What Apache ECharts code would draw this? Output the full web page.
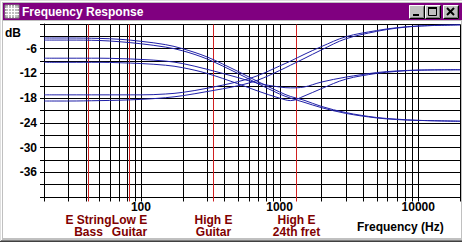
<!DOCTYPE html>
<html>
<head>
<meta charset="utf-8">
<script src="https://cdn.jsdelivr.net/npm/echarts@6/dist/echarts.min.js"></script>
<style>
html,body{margin:0;padding:0;background:#c0c0c0;}
#c{width:462px;height:242px;}
</style>
</head>
<body>
<div id="c"></div>
<script>
// ---- data ----
const freqs = [20, 30, 50, 70, 100, 150, 200, 300, 500, 700, 1000, 1200, 1500, 2000, 3000, 5000, 7000, 10000, 20000];
const curveA = [-3.4, -3.4, -3.5, -3.7, -4.2, -5.0, -6.0, -8.0, -11.5, -14.0, -16.5, -17.6, -18.5, -20.0, -21.5, -22.7, -23.1, -23.4, -23.6];
const curveB = [-3.9, -3.9, -4.0, -4.3, -4.8, -5.6, -6.5, -8.5, -12.0, -14.5, -17.0, -18.0, -19.0, -20.3, -21.7, -22.8, -23.2, -23.4, -23.6];
const curveC = [-8.3, -8.3, -8.3, -8.4, -8.6, -9.0, -9.6, -11.0, -13.0, -14.4, -15.3, -15.5, -15.3, -14.1, -12.9, -11.8, -11.4, -11.2, -11.1];
const curveD = [-9.3, -9.3, -9.3, -9.4, -9.6, -10.0, -10.6, -12.0, -14.5, -16.3, -18.0, -18.6, -17.5, -15.7, -13.4, -12.0, -11.5, -11.2, -11.1];
const curveE = [-17.2, -17.2, -17.2, -17.2, -17.2, -17.0, -16.6, -15.6, -14.0, -12.5, -10.2, -9.0, -7.4, -5.5, -3.1, -1.6, -0.9, -0.5, -0.2];
const curveF = [-18.7, -18.7, -18.6, -18.5, -18.3, -17.9, -17.4, -16.4, -15.0, -13.6, -11.3, -10.0, -8.4, -6.3, -3.6, -1.8, -1.0, -0.5, -0.2];
const curves = [curveA, curveB, curveC, curveD, curveE, curveF];

const gridFreqs = [20, 30, 40, 50, 60, 70, 80, 90, 100, 200, 300, 400, 500, 600, 700, 800, 900,
  1000, 2000, 3000, 4000, 5000, 6000, 7000, 8000, 9000, 10000, 20000];
const markerFreqs = [41.2, 82.4, 329.6, 1318.5];
const markerLine1 = ['E String', 'Low E', 'High E', 'High E'];
const markerLine2 = ['Bass', 'Guitar', 'Guitar', '24th fret'];
const xTickLabels = [100, 1000, 10000];
const yTickLabels = [-6, -12, -18, -24, -30, -36];

const FONT = '"Liberation Sans", Arial, sans-serif';

const chart = echarts.init(document.getElementById('c'), null, {renderer: 'svg'});

function button(x, y, glyph) {
  const w = 16, h = 14;
  const children = [
    {type: 'rect', shape: {x: x, y: y, width: w, height: h}, style: {fill: '#c0c0c0'}},
    {type: 'polyline', shape: {points: [[x + 0.5, y + h - 0.5], [x + 0.5, y + 0.5], [x + w - 0.5, y + 0.5]]}, style: {stroke: '#ffffff', lineWidth: 1, fill: null}},
    {type: 'polyline', shape: {points: [[x + 0.5, y + h - 0.5], [x + w - 0.5, y + h - 0.5], [x + w - 0.5, y + 0.5]]}, style: {stroke: '#000000', lineWidth: 1, fill: null}},
    {type: 'polyline', shape: {points: [[x + 1.5, y + h - 1.5], [x + w - 1.5, y + h - 1.5], [x + w - 1.5, y + 1.5]]}, style: {stroke: '#808080', lineWidth: 1, fill: null}}
  ];
  if (glyph === 'min') {
    children.push({type: 'rect', shape: {x: x + 4, y: y + 9, width: 6, height: 2}, style: {fill: '#000'}});
  } else if (glyph === 'max') {
    children.push({type: 'rect', shape: {x: x + 3.5, y: y + 2.5, width: 8, height: 8}, style: {stroke: '#000', fill: null, lineWidth: 1}});
    children.push({type: 'rect', shape: {x: x + 3, y: y + 2, width: 9, height: 2}, style: {fill: '#000'}});
  } else {
    children.push({type: 'line', shape: {x1: x + 4, y1: y + 3, x2: x + 11, y2: y + 10}, style: {stroke: '#000', lineWidth: 2}});
    children.push({type: 'line', shape: {x1: x + 11, y1: y + 3, x2: x + 4, y2: y + 10}, style: {stroke: '#000', lineWidth: 2}});
  }
  return {type: 'group', z: -5, children: children};
}

const iconChildren = [{type: 'rect', shape: {x: 5, y: 5, width: 14, height: 13}, style: {fill: '#c0c0c0', stroke: '#808080', lineWidth: 1}}];
[8, 11, 14].forEach(function (v) {
  iconChildren.push({type: 'line', shape: {x1: v + 0.5, y1: 5, x2: v + 0.5, y2: 18}, style: {stroke: '#ffffff', lineWidth: 1}});
});
[8, 11, 14].forEach(function (v) {
  iconChildren.push({type: 'line', shape: {x1: 5, y1: v + 0.5, x2: 19, y2: v + 0.5}, style: {stroke: '#ffffff', lineWidth: 1}});
});

const lineSeries = curves.map(function (c) {
  return {
    type: 'line',
    data: freqs.map(function (f, i) { return [f, c[i]]; }),
    smooth: 0.35,
    showSymbol: false,
    symbol: 'none',
    lineStyle: {color: '#2020a8', width: 1},
    z: 5,
    silent: true,
    animation: false
  };
});

const option = {
  animation: false,
  grid: {left: 44, top: 24, width: 416, height: 173, show: false},
  xAxis: {
    type: 'log', logBase: 10, min: 20, max: 20000,
    axisLine: {show: true, lineStyle: {color: '#000', width: 1}},
    axisTick: {show: false},
    splitLine: {show: false},
    axisLabel: {
      margin: 5, lineHeight: 9, color: '#000', fontWeight: 'bold', fontSize: 12, fontFamily: FONT,
      showMinLabel: false, showMaxLabel: false,
      formatter: function (v) { const r = Math.round(v); return xTickLabels.indexOf(r) >= 0 ? String(r) : ''; }
    }
  },
  yAxis: {
    type: 'value', min: -42, max: 0, interval: 3,
    axisLine: {show: true, lineStyle: {color: '#000', width: 1}},
    axisTick: {show: true, length: 4, lineStyle: {color: '#000', width: 1}},
    splitLine: {show: true, lineStyle: {color: '#000', width: 1}},
    axisLabel: {
      margin: 7, color: '#000', fontWeight: 'bold', fontSize: 12, fontFamily: FONT,
      formatter: function (v) { return yTickLabels.indexOf(v) >= 0 ? String(v) : ''; }
    }
  },
  graphic: [
    {type: 'rect', z: -10, shape: {x: 0, y: 0, width: 462, height: 242}, style: {fill: '#c0c0c0'}},
    {type: 'line', z: -9, shape: {x1: 0, y1: 0.5, x2: 462, y2: 0.5}, style: {stroke: '#dfdfdf', lineWidth: 1}},
    {type: 'line', z: -9, shape: {x1: 0.5, y1: 0, x2: 0.5, y2: 242}, style: {stroke: '#dfdfdf', lineWidth: 1}},
    {type: 'line', z: -9, shape: {x1: 1.5, y1: 1, x2: 1.5, y2: 241}, style: {stroke: '#ffffff', lineWidth: 1}},
    {type: 'line', z: -9, shape: {x1: 1, y1: 1.5, x2: 462, y2: 1.5}, style: {stroke: '#ffffff', lineWidth: 1}},
    {type: 'line', z: -9, shape: {x1: 0, y1: 241.5, x2: 462, y2: 241.5}, style: {stroke: '#404040', lineWidth: 1}},
    {type: 'line', z: -9, shape: {x1: 1, y1: 240.5, x2: 462, y2: 240.5}, style: {stroke: '#808080', lineWidth: 1}},
    {type: 'rect', z: -8, shape: {x: 3, y: 3, width: 459, height: 17}, style: {fill: '#800080'}},
    {type: 'rect', z: -8, shape: {x: 3, y: 21, width: 458, height: 217}, style: {fill: '#ffffff'}},
    {type: 'group', z: -5, children: iconChildren},
    {type: 'text', z: -4, style: {text: 'Frequency Response', x: 22, y: 12, fill: '#ffffff', font: 'bold 12px ' + FONT, verticalAlign: 'middle', align: 'left'}},
    button(409, 5, 'min'),
    button(425, 5, 'max'),
    button(443, 5, 'close'),
    {type: 'text', z: 10, style: {text: 'dB', x: 21, y: 33, fill: '#000', font: 'bold 12px ' + FONT, verticalAlign: 'middle', align: 'right'}},
    {type: 'text', z: 10, style: {text: 'Frequency (Hz)', x: 357, y: 227, fill: '#000', font: 'bold 12px ' + FONT, verticalAlign: 'middle', align: 'left'}}
  ],
  series: [
    {
      type: 'custom', clip: false, silent: true, z: 1,
      data: gridFreqs.map(function (f) { return [f, 0]; }),
      encode: {x: 0, y: 1},
      renderItem: function (params, api) {
        const f = api.value(0);
        const p0 = api.coord([f, 0]);
        const p1 = api.coord([f, -42]);
        const x = Math.round(p0[0]) + 0.5;
        return {type: 'line', shape: {x1: x, y1: Math.round(p0[1]) + 0.5, x2: x, y2: Math.round(p1[1]) + 4.5}, style: {stroke: '#000', lineWidth: 1}};
      }
    },
    {
      type: 'custom', clip: false, silent: true, z: 3,
      data: markerFreqs.map(function (f, i) { return [f, 0, i]; }),
      encode: {x: 0, y: 1},
      renderItem: function (params, api) {
        const f = api.value(0);
        const idx = api.value(2);
        const p0 = api.coord([f, 0]);
        const p1 = api.coord([f, -42]);
        const x = Math.round(p0[0]) + 0.5;
        return {
          type: 'group',
          children: [
            {type: 'line', shape: {x1: x, y1: Math.round(p0[1]) + 0.5, x2: x, y2: Math.round(p1[1]) + 4.5}, style: {stroke: '#d02020', lineWidth: 1}},
            {type: 'text', style: {text: markerLine1[idx], x: x, y: 219.5, fill: '#800000', font: 'bold 12px ' + FONT, align: 'center', verticalAlign: 'middle', lineHeight: 8}},
            {type: 'text', style: {text: markerLine2[idx], x: x, y: 232, fill: '#800000', font: 'bold 12px ' + FONT, align: 'center', verticalAlign: 'middle', lineHeight: 8}}
          ]
        };
      }
    }
  ].concat(lineSeries)
};
chart.setOption(option);
</script>
</body>
</html>
